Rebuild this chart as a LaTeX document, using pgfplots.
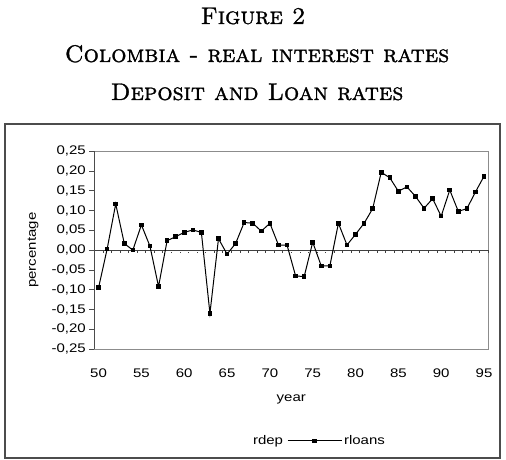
\documentclass[border=0pt]{standalone}
\usepackage{fontspec}
\usepackage{pgfplots}
\pgfplotsset{compat=1.18}
\newfontfamily\arial[FakeStretch=1.2]{Liberation Sans}
\newfontfamily\titlefont[FakeBold=1.2]{lmromancaps10-regular.otf}
\pgfplotstableread{
year rloans
50 -0.095
51 0.003
52 0.117
53 0.017
54 0.000
55 0.064
56 0.010
57 -0.092
58 0.024
59 0.034
60 0.045
61 0.051
62 0.045
63 -0.160
64 0.029
65 -0.010
66 0.017
67 0.070
68 0.068
69 0.048
70 0.068
71 0.013
72 0.013
73 -0.065
74 -0.067
75 0.020
76 -0.040
77 -0.040
78 0.068
79 0.013
80 0.040
81 0.068
82 0.105
83 0.197
84 0.183
85 0.149
86 0.160
87 0.136
88 0.106
89 0.130
90 0.086
91 0.152
92 0.098
93 0.105
94 0.147
95 0.187
}\loans
\pgfplotstableread{
year rdep
50 -0.004
53 -0.004
56 -0.004
59 -0.004
62 -0.004
65 -0.004
68 -0.004
71 -0.004
74 -0.004
77 -0.004
}\dep
\newcommand\tf{\titlefont\fontsize{24}{28}\selectfont}
\newcommand\af{\arial\fontsize{12.5}{15}\selectfont}
\begin{document}
\begin{tikzpicture}
\path (0pt,0pt) rectangle (506pt,460pt);
\draw[black!70, line width=1.3pt] (5pt,2pt) rectangle (500pt,336pt);
\node[anchor=base, inner sep=0pt] at (253pt,436pt) {\tf Figure 2};
\node[anchor=base, inner sep=0pt] at (257pt,398pt) {\tf Colombia - real interest rates};
\node[anchor=base, inner sep=0pt] at (257pt,360pt) {\tf Deposit and Loan rates};
\begin{axis}[
  at={(94.3pt,111pt)}, anchor=south west,
  scale only axis, width=394pt, height=197.7pt,
  xmin=49.5, xmax=95.5, ymin=-0.25, ymax=0.25,
  axis line style={black!45, line width=0.8pt},
  xtick={50,55,...,95},
  xtick style={draw=none},
  ytick={-0.25,-0.2,...,0.26},
  ytick pos=left, tick align=outside,
  major tick length=5pt,
  ytick style={black!70, line width=0.8pt},
  /pgf/number format/assume math mode=true,
  yticklabel style={/pgf/number format/.cd, fixed, fixed zerofill, precision=2, use comma},
  ticklabel style={font=\af},
  xticklabel style={yshift=-11pt},
  xlabel={year}, ylabel={percentage},
  label style={font=\af},
  xlabel style={at={(axis description cs:0.5,-0.253)}, anchor=center},
  ylabel style={at={(axis description cs:-0.155,0.5)}, anchor=center},
  legend columns=2,
  legend style={draw=none, fill=none, at={(0.50,-0.465)}, anchor=center,
    font=\af, /tikz/every even column/.append style={column sep=2pt}},
  legend image code/.code={\draw[mark repeat=2,mark phase=2,#1] plot coordinates {(0pt,0pt) (27pt,0pt) (54pt,0pt)};},
  clip=false,
]
\draw[black!75, line width=0.9pt] (axis cs:49.5,0) -- (axis cs:95.5,0);
\pgfplotsinvokeforeach{49.5,50.5,...,95.5}{\draw[black!75, line width=0.7pt] (axis cs:#1,0) -- (axis cs:#1,-0.008);}
\addplot[white, line width=1.3pt, dash pattern=on 3pt off 5pt, no markers] table[x=year,y=rdep] {\dep};
\addlegendentry{rdep}
\addplot[black, line width=1pt, mark=square*, mark size=1.8pt] table[x=year,y=rloans] {\loans};
\addlegendentry{rloans}
\draw[black!70, line width=1pt] (axis cs:49.5,-0.25) -- (axis cs:49.5,0.25);
\end{axis}
\end{tikzpicture}
\end{document}
